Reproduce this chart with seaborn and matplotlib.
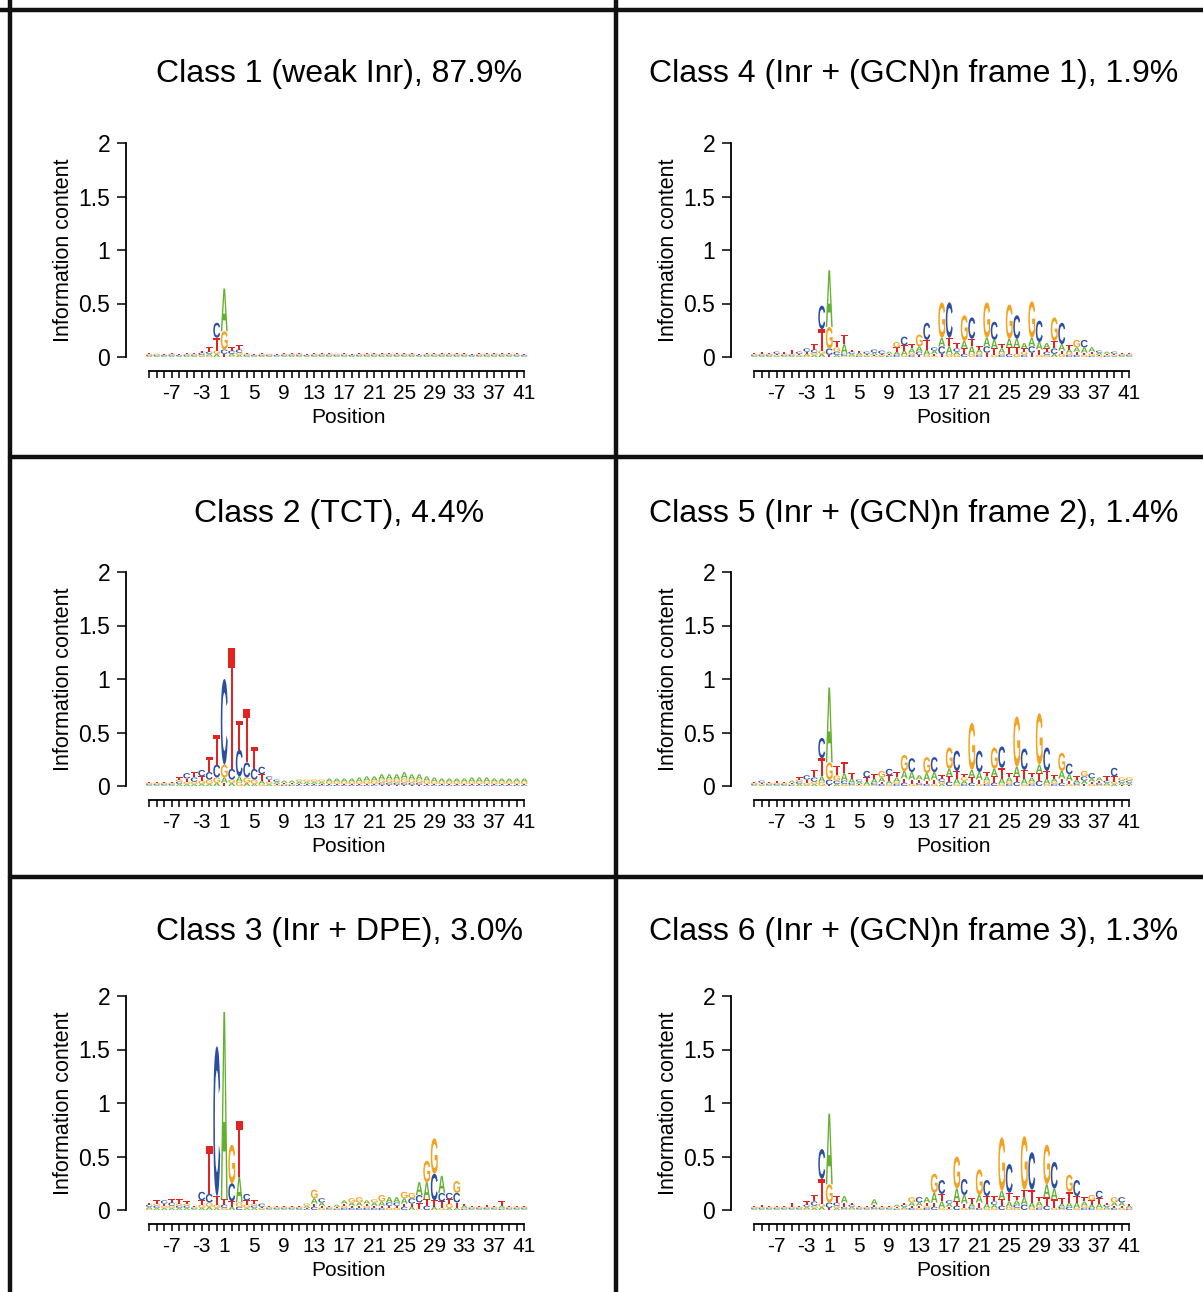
#Import Libraries:

import matplotlib
matplotlib.use("Agg")
import matplotlib.pyplot as plt
import matplotlib.transforms as mtransforms
from matplotlib.textpath import TextPath
from matplotlib.patches import PathPatch
from matplotlib.font_manager import FontProperties
from matplotlib.lines import Line2D
import seaborn as sns
import numpy as np

# Letter heights (information content x 100), one value per logo column.
# Columns run over positions -10..-1, 1..41 (there is no position 0).
positions = [p for p in range(-10, 42) if p != 0]

class1_A = [1,1,1,1,1,1,1,1,2,3, 40,2,2,1,1,1,1,1,1,1, 1,1,1,1,1,1,1,1,1,1, 1,1,1,1,1,1,1,1,1,1, 1,1,1,1,1,1,1,1,1,1,1]
class1_C = [1,1,1,1,1,1,1,2,2,14, 4,3,3,1,1,1,1,1,1,1, 1,1,1,1,1,1,1,1,1,1, 1,1,1,1,1,1,1,1,1,1, 1,1,1,1,1,1,1,1,1,1,1]
class1_G = [1,1,0,1,0,1,1,1,1,3, 17,1,2,1,0,1,1,0,1,1, 1,0,1,1,1,1,1,0,1,1, 1,1,1,1,1,1,0,1,1,1, 1,1,1,0,1,1,1,1,1,1,0]
class1_T = [1,0,1,1,1,1,1,2,4,12, 3,3,4,1,1,1,0,1,1,1, 1,1,1,1,1,0,1,1,1,1, 1,1,1,1,1,1,1,1,1,1, 1,1,1,1,1,1,1,1,1,1,1]

class2_A = [1,1,1,1,2,2,2,2,2,3, 5,3,5,3,2,3,2,2,2,2, 2,2,2,2,3,3,3,3,4,4, 4,5,5,5,6,5,5,4,4,3, 3,3,3,4,4,4,3,3,3,3,3]
class2_C = [1,1,1,1,2,5,4,6,7,12, 80,10,25,14,10,7,3,2,1,1, 1,1,1,1,1,1,1,1,1,1, 1,2,2,2,2,2,2,1,1,1, 1,1,1,1,1,1,1,1,1,1,1]
class2_G = [1,1,1,1,2,2,2,3,4,5, 12,3,4,5,4,2,2,1,1,1, 2,2,2,2,2,2,2,2,2,3, 3,3,3,3,4,3,3,3,2,2, 2,2,2,2,2,2,2,2,2,2,2]
class2_T = [1,1,1,1,2,3,5,4,14,28, 3,113,27,50,20,6,2,1,1,1, 1,1,1,1,1,1,1,1,1,1, 1,1,1,1,1,1,1,1,1,1, 1,1,1,1,1,1,1,1,1,1,1]

class3_A = [2,2,2,2,2,2,1,2,3,2, 175,3,24,2,2,1,1,1,1,1, 1,2,5,3,1,2,3,3,3,3, 3,4,5,5,5,3,12,16,3,16, 2,2,2,1,1,1,1,2,1,1,1]
class3_C = [2,2,3,3,2,2,1,8,8,140, 3,17,3,6,2,3,1,1,1,1, 1,1,3,4,1,1,2,2,2,2, 2,2,3,3,3,5,7,4,25,8, 6,9,1,1,1,1,1,1,1,1,1]
class3_G = [1,2,2,2,2,2,1,3,4,3, 2,36,4,3,2,1,1,1,1,1, 1,2,8,2,1,1,2,4,5,2, 3,6,2,2,6,5,1,20,33,2, 4,11,1,1,1,1,1,1,1,1,1]
class3_T = [2,3,2,3,4,2,1,4,45,8, 5,5,52,4,3,1,1,1,1,1, 1,1,3,2,1,1,2,2,2,2, 2,2,2,2,3,3,6,6,6,6, 4,5,2,1,1,2,1,4,1,1,1]

class4_A = [1,1,1,1,1,1,1,2,2,3, 53,2,9,2,2,1,2,1,2,3, 4,4,5,5,3,8,7,3,7,7, 3,8,8,4,8,8,5,8,7,5, 3,6,3,4,5,4,2,2,1,1,1]
class4_C = [1,1,1,2,1,1,2,3,3,22, 6,3,2,2,1,2,3,3,1,2, 8,2,3,16,3,7,33,3,3,20, 2,6,17,2,3,22,2,6,20,3, 5,20,2,2,7,1,2,1,2,1,1]
class4_G = [1,1,1,1,1,1,1,1,2,3, 20,4,1,1,1,1,1,1,1,5, 2,2,11,2,1,33,3,2,24,3, 2,33,2,2,32,3,3,34,2,2, 22,3,2,7,2,2,1,1,1,1,1]
class4_T = [1,2,1,1,2,4,1,2,5,20, 2,6,9,2,2,1,1,1,1,4, 5,4,2,9,2,3,8,5,5,7, 3,4,6,4,6,6,3,4,5,3, 7,3,4,3,2,2,1,1,1,1,1]

class5_A = [1,1,1,1,1,2,2,1,2,5, 70,2,7,4,2,3,4,4,3,4, 7,7,4,7,7,2,7,5,3,7, 7,4,7,5,4,9,5,4,8,5, 3,7,6,3,3,3,3,2,2,2,2]
class5_C = [1,2,1,1,1,1,2,4,4,19, 5,3,3,2,2,6,2,2,6,2, 3,13,2,2,14,3,4,19,2,3, 20,2,3,20,2,4,20,2,5,22, 2,3,10,2,4,5,2,2,8,2,2]
class5_G = [1,1,1,1,1,1,2,2,2,4, 16,5,2,1,1,1,1,6,2,2, 15,2,1,15,2,2,20,2,3,44, 2,3,20,2,2,47,2,2,48,2, 2,17,2,1,5,2,1,1,2,3,3]
class5_T = [1,1,1,2,1,1,2,3,7,17, 1,9,10,5,1,4,4,2,5,5, 4,4,3,3,4,3,5,7,3,5, 4,4,6,10,4,5,8,4,7,7, 3,4,3,3,2,2,2,4,5,1,1]

class6_A = [1,1,1,1,1,1,1,2,2,3, 66,2,6,2,1,1,5,1,1,2, 2,3,3,5,9,6,3,12,8,3, 7,4,3,8,5,4,7,5,4,12, 10,3,4,5,4,3,4,2,3,3,2]
class6_C = [1,1,1,1,1,1,1,2,4,28, 5,3,2,2,1,1,2,1,1,1, 2,2,5,2,3,13,3,4,15,2, 2,15,3,4,27,3,5,35,2,4, 25,2,3,15,2,2,7,2,2,5,1]
class6_G = [1,1,1,1,1,1,1,1,2,3, 17,2,1,1,1,1,1,1,1,1, 1,5,2,2,18,2,1,30,2,1, 24,2,2,50,3,2,50,2,2,37, 2,1,16,2,2,5,2,1,5,2,1]
class6_T = [1,2,1,1,1,4,1,3,6,23, 2,6,4,2,1,1,2,1,1,1, 2,2,2,3,4,7,2,4,4,5, 5,7,5,6,8,4,7,12,4,8, 8,5,10,6,4,4,5,2,2,2,2]

titles = ["Class 1 (weak Inr), 87.9%", "Class 2 (TCT), 4.4%", "Class 3 (Inr + DPE), 3.0%",
          "Class 4 (Inr + (GCN)n frame 1), 1.9%", "Class 5 (Inr + (GCN)n frame 2), 1.4%",
          "Class 6 (Inr + (GCN)n frame 3), 1.3%"]
tick_labels_shown = ["-7", "-3", "1", "5", "9", "13", "17", "21", "25", "29", "33", "37", "41"]

base_colors = {"A": "#64B030", "C": "#2C4EA2", "G": "#F4A21E", "T": "#E42320"}

W, H = 1203, 1292

#Glyph outlines used for the logo letters
glyph_font = FontProperties(family="Liberation Sans", weight="bold")
glyphs = {b: TextPath((0, 0), b, size=1, prop=glyph_font) for b in "ACGT"}


#This function draws one letter stretched into a box of the data space
def draw_letter(ax, base, x, y, h, w=0.92):
    path = glyphs[base]
    ext = path.get_extents()
    tr = (mtransforms.Affine2D()
          .translate(-ext.x0, -ext.y0)
          .scale(w / ext.width, h / ext.height)
          .translate(x - w / 2, y))
    ax.add_patch(PathPatch(tr.transform_path(path), facecolor=base_colors[base],
                           edgecolor="none", lw=0))


#This function stacks the letters of every column, smallest at the bottom
def draw_logo(ax, A, C, G, T):
    for i in range(len(positions)):
        col = [("A", A[i] / 100), ("C", C[i] / 100), ("G", G[i] / 100), ("T", T[i] / 100)]
        col.sort(key=lambda t: t[1])
        y0 = 0
        for base, h in col:
            if h > 0:
                draw_letter(ax, base, i, y0, h)
                y0 += h


sns.set_style("ticks")
plt.rcParams["font.family"] = ["Liberation Sans", "DejaVu Sans"]
plt.rcParams["text.color"] = "black"
plt.rcParams["axes.labelcolor"] = "black"
plt.rcParams["xtick.color"] = "black"
plt.rcParams["ytick.color"] = "black"

fig = plt.figure(figsize=(W / 100, H / 100), dpi=100)

panels = [
    (titles[0], class1_A, class1_C, class1_G, class1_T, 145.5, 357, 339, 74),
    (titles[1], class2_A, class2_C, class2_G, class2_T, 145.5, 786, 339, 514),
    (titles[2], class3_A, class3_C, class3_G, class3_T, 145.5, 1210, 339, 932),
    (titles[3], class4_A, class4_C, class4_G, class4_T, 750.5, 357, 914, 74),
    (titles[4], class5_A, class5_C, class5_G, class5_T, 750.5, 786, 914, 514),
    (titles[5], class6_A, class6_C, class6_G, class6_T, 750.5, 1210, 914, 932),
]

n = len(positions)
label_idx = [positions.index(int(t)) for t in tick_labels_shown]
xt_labels = [str(positions[i]) if i in label_idx else "" for i in range(n)]

for title, A, C, G, T, left_px, zero_px, tx, ty in panels:
    ax = fig.add_axes([left_px / W, (H - zero_px) / H, 382.5 / W, 214 / H])
    draw_logo(ax, A, C, G, T)
    ax.set_xlim(-0.5, n - 0.5)
    ax.set_ylim(0, 2)
    ax.set_xticks(range(n))
    ax.set_yticks([0, 0.5, 1, 1.5, 2])
    sns.despine(ax=ax, offset={"left": 14, "bottom": 10}, trim=True)
    ax.set_xticklabels(xt_labels)
    ax.set_yticklabels(["0", "0.5", "1", "1.5", "2"])
    ax.tick_params(axis="x", length=5, width=1.1, pad=4.5, labelsize=15)
    ax.tick_params(axis="y", length=6.5, width=1.1, pad=5, labelsize=16.5)
    for s in ["left", "bottom"]:
        ax.spines[s].set_linewidth(1.3)
        ax.spines[s].set_color("black")
    ax.set_ylabel("Information content", fontsize=15.5, va="center")
    ax.yaxis.set_label_coords(-0.214, 0.5)
    ax.set_xlabel("Position", fontsize=15, va="center")
    ax.xaxis.set_label_coords(0.532, -0.285)
    fig.text(tx / W, 1 - ty / H, title, ha="center", va="center", fontsize=23)

#Thick frame lines between the panels
frame = [((10, 10), (0, H)), ((616, 616), (0, H)), ((0, W), (10, 10)),
         ((10, W), (457, 457)), ((10, W), (877, 877))]
for xs, ys in frame:
    fig.add_artist(Line2D([x / W for x in xs], [1 - y / H for y in ys],
                          transform=fig.transFigure, color="#111111", lw=3.2))

plt.savefig("out.png", dpi=100)
